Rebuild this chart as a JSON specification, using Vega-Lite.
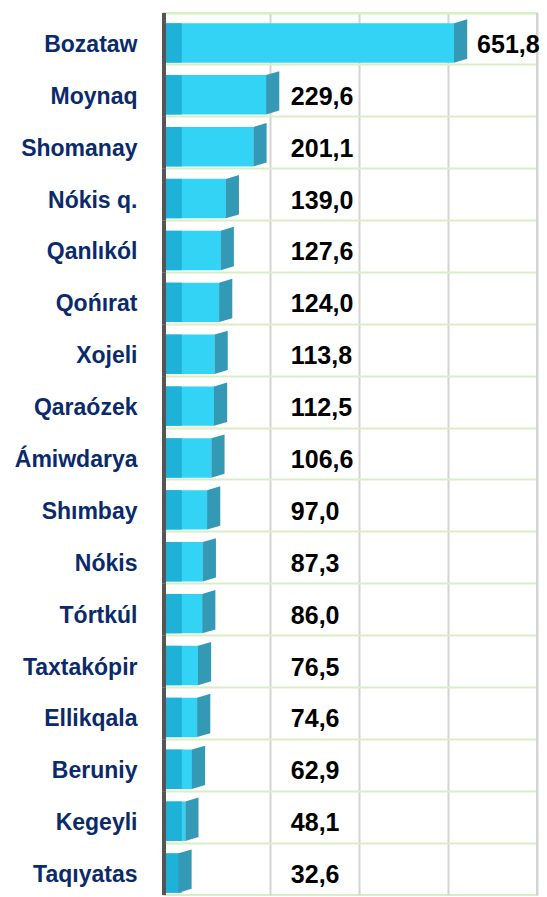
{
  "$schema": "https://vega.github.io/schema/vega-lite/v6.json",
  "width": 373,
  "height": 882,
  "autosize": {"type": "none"},
  "padding": {"left": 164, "top": 13, "right": 10, "bottom": 2},
  "background": "white",
  "config": {
    "view": {"stroke": "#d8efc5", "strokeWidth": 2},
    "locale": {"number": {"decimal": ",", "thousands": " ", "grouping": [3], "currency": ["", ""]}}
  },
  "data": {
    "values": [
      {"name": "Bozataw", "value": 651.8},
      {"name": "Moynaq", "value": 229.6},
      {"name": "Shomanay", "value": 201.1},
      {"name": "Nókis q.", "value": 139.0},
      {"name": "Qanlıkól", "value": 127.6},
      {"name": "Qońırat", "value": 124.0},
      {"name": "Xojeli", "value": 113.8},
      {"name": "Qaraózek", "value": 112.5},
      {"name": "Ámiwdarya", "value": 106.6},
      {"name": "Shımbay", "value": 97.0},
      {"name": "Nókis ", "value": 87.3},
      {"name": "Tórtkúl", "value": 86.0},
      {"name": "Taxtakópir", "value": 76.5},
      {"name": "Ellikqala", "value": 74.6},
      {"name": "Beruniy", "value": 62.9},
      {"name": "Kegeyli", "value": 48.1},
      {"name": "Taqıyatas", "value": 32.6}
    ]
  },
  "resolve": {"scale": {"x": "independent"}},
  "layer": [
    {
      "data": {"values": [{}]},
      "layer": [
        {
          "mark": {"type": "rule", "color": "#d4d4d4", "strokeWidth": 2},
          "encoding": {
            "x": {
              "datum": 800,
              "type": "quantitative",
              "scale": {"domain": [-38, 800], "nice": false, "zero": false},
              "axis": {"title": null, "grid": true, "gridColor": "#d4d4d4", "gridWidth": 2, "values": [200, 400, 600, 800], "labels": false, "ticks": false, "domain": false}
            }
          }
        }
      ]
    },
    {
      "encoding": {
        "y": {
          "field": "name",
          "type": "nominal",
          "sort": null,
          "scale": {"paddingInner": 0, "paddingOuter": 0},
          "axis": {
            "title": null,
            "bandPosition": 0,
            "grid": true,
            "gridColor": "#d8efc5",
            "gridWidth": 2,
            "ticks": false,
            "domain": false,
            "labelPadding": 27,
            "labelOffset": 6,
            "labelFont": "Liberation Sans",
            "labelFontWeight": "bold",
            "labelFontSize": 23,
            "labelColor": "#0b2a6b",
            "labelLimit": 200
          }
        }
      },
      "layer": [
        {
          "mark": {"type": "bar", "color": "#33d3f5", "height": {"band": 0.76}, "yOffset": 4},
          "encoding": {
            "x": {"field": "value", "type": "quantitative", "scale": {"domain": [0, 838], "nice": false}, "axis": null}
          }
        },
        {
          "mark": {"type": "bar", "color": "#1fb2d8", "height": {"band": 0.76}, "yOffset": 4},
          "encoding": {
            "x": {"datum": 0, "type": "quantitative"},
            "x2": {"datum": 40}
          }
        },
        {
          "mark": {
            "type": "point",
            "shape": "M -0.33 -0.985 L 0.33 -1.18 L 0.33 0.79 L -0.33 0.985 Z",
            "size": 1600,
            "filled": true,
            "opacity": 1,
            "color": "#3399b5",
            "strokeWidth": 0,
            "xOffset": 6.5,
            "yOffset": 4
          },
          "encoding": {
            "x": {"field": "value", "type": "quantitative"}
          }
        },
        {
          "mark": {"type": "tick", "color": "#555555", "thickness": 4, "size": 52, "opacity": 1},
          "encoding": {"x": {"datum": 0, "type": "quantitative"}}
        },
        {
          "transform": [{"filter": "datum.value >= 300"}],
          "mark": {"type": "text", "align": "left", "baseline": "middle", "dx": 23, "dy": 6, "font": "Liberation Sans", "fontWeight": "bold", "fontSize": 25, "color": "#000000"},
          "encoding": {
            "x": {"field": "value", "type": "quantitative"},
            "text": {"field": "value", "type": "quantitative", "format": ".1f"}
          }
        },
        {
          "transform": [{"filter": "datum.value < 300"}],
          "mark": {"type": "text", "align": "left", "baseline": "middle", "dy": 6, "font": "Liberation Sans", "fontWeight": "bold", "fontSize": 25, "color": "#000000"},
          "encoding": {
            "x": {"datum": 285, "type": "quantitative"},
            "text": {"field": "value", "type": "quantitative", "format": ".1f"}
          }
        }
      ]
    }
  ]
}
